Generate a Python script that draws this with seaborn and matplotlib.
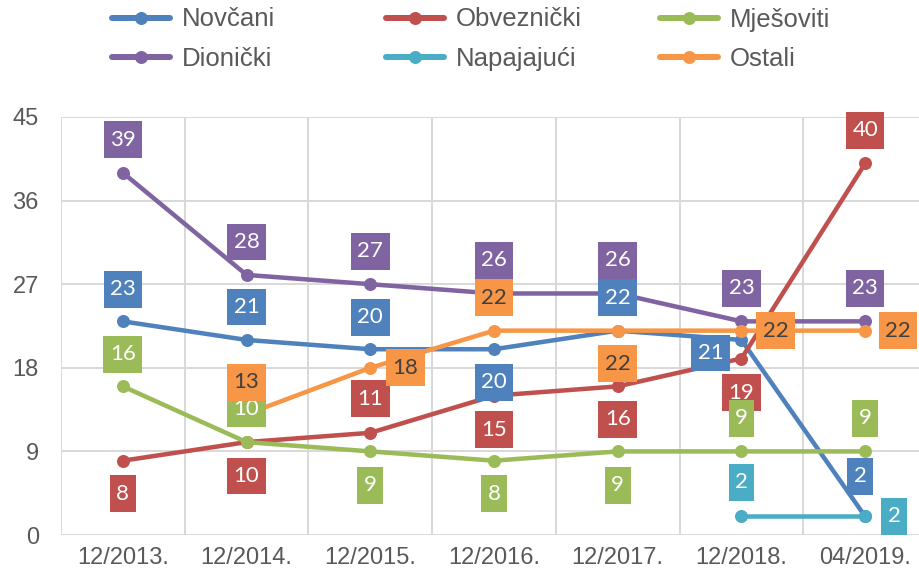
import numpy as np
import pandas as pd
import matplotlib
matplotlib.use("Agg")
import matplotlib.pyplot as plt
from matplotlib.lines import Line2D
import seaborn as sns

# ---- data ----
periods = ["12/2013.", "12/2014.", "12/2015.", "12/2016.", "12/2017.", "12/2018.", "04/2019."]
series_names = ["Novčani", "Obveznički", "Mješoviti", "Dionički", "Napajajući", "Ostali"]
novcani = [23, 21, 20, 20, 22, 21, 2]
obveznicki = [8, 10, 11, 15, 16, 19, 40]
mjesoviti = [16, 10, 9, 8, 9, 9, 9]
dionicki = [39, 28, 27, 26, 26, 23, 23]
napajajuci = [np.nan, np.nan, np.nan, np.nan, np.nan, 2, 2]
ostali = [np.nan, 13, 18, 22, 22, 22, 22]
yticks = [0, 9, 18, 27, 36, 45]

# ---- styles ----
colors = {"Novčani": "#4F81BD", "Obveznički": "#C0504D", "Mješoviti": "#9BBB59",
          "Dionički": "#8064A2", "Napajajući": "#4BACC6", "Ostali": "#F79646"}
text_colors = {k: "white" for k in colors}
text_colors["Ostali"] = "#404040"
# label offsets in pixels (dx, dy up)
label_offsets = {
    "Novčani": [(0, 32), (0, 33), (0, 32), (0, -33), (0, 33), (-31, -13), (-5, 40)],
    "Obveznički": [(0, -33), (0, -34), (0, 34), (0, -34), (0, -33), (0, -34), (0, 33)],
    "Mješoviti": [(0, 32), (0, 33), (0, -34), (0, -33), (0, -34), (0, 33), (0, 33)],
    "Dionički": [(0, 33)] * 7,
    "Napajajući": [None] * 5 + [(0, 34), (29, 0)],
    "Ostali": [None, (0, 32), (35, 0), (0, 33), (0, -33), (34, 0), (33, 0)],
}

values = dict(zip(series_names, [novcani, obveznicki, mjesoviti, dionicki, napajajuci, ostali]))
rows = []
for s in series_names:
    for i, p in enumerate(periods):
        rows.append({"xi": i, "period": p, "series": s, "value": values[s][i]})
df = pd.DataFrame(rows)

sns.set_theme(style="white")
plt.rcParams["font.family"] = ["Liberation Sans", "DejaVu Sans"]

DPI = 100
fig = plt.figure(figsize=(9.19, 5.76), dpi=DPI)
ax = fig.add_axes([61 / 919, 41 / 576, 866 / 919, 418 / 576])

PX = 72 / DPI  # points per pixel
sns.lineplot(data=df.dropna(), x="xi", y="value", hue="series", hue_order=series_names,
             palette=colors, marker="o", markersize=13 * PX, markeredgewidth=0,
             linewidth=4.5 * PX, legend=False, errorbar=None, sort=False, ax=ax, zorder=3)

ax.set_xlim(-0.5, 6.5)
ax.set_ylim(0, 45)
ax.set_yticks(yticks)
ax.set_xticks(range(len(periods)))
ax.set_xticklabels(periods)
ax.set_xticks(np.arange(-0.5, 7, 1), minor=True)
ax.grid(False)
ax.grid(True, axis="y", which="major", color="#D9D9D9", linewidth=2 * PX, zorder=0)
ax.grid(True, axis="x", which="minor", color="#D9D9D9", linewidth=2 * PX, zorder=0)
for sp in ax.spines.values():
    sp.set_visible(False)
ax.tick_params(axis="both", which="both", length=0)
ax.tick_params(axis="y", labelsize=17, labelcolor="#595959", pad=16)
ax.tick_params(axis="x", labelsize=17, labelcolor="#595959", pad=9)
ax.set_xlabel("")
ax.set_ylabel("")

# data labels
for s in series_names:
    for i, v in enumerate(values[s]):
        off = label_offsets[s][i]
        if off is None or np.isnan(v):
            continue
        ax.annotate(f"{v:.0f}", xy=(i, v), xytext=off, textcoords="offset pixels",
                    ha="center", va="center", fontsize=16, family=["Lato", "DejaVu Sans"],
                    color=text_colors[s], zorder=5,
                    bbox=dict(boxstyle="square,pad=0.29", fc=colors[s], ec="none",
                              mutation_aspect=1.3),
                    annotation_clip=False)

# legend: three columns
handles = {s: Line2D([], [], color=colors[s], linewidth=6 * PX, marker="o",
                     markersize=13 * PX, markeredgewidth=0) for s in series_names}
cols = [["Novčani", "Dionički"], ["Obveznički", "Napajajući"], ["Mješoviti", "Ostali"]]
col_x = [112, 386, 660]
for cx, names in zip(col_x, cols):
    fig.legend([handles[n] for n in names], names, loc="upper left",
               bbox_to_anchor=(cx / 919, 1 - 7.5 / 576), frameon=False,
               borderpad=0, borderaxespad=0, fontsize=18.5, handlelength=2.25,
               handletextpad=0.47, labelspacing=0.6, labelcolor="#595959")

fig.savefig("out.png", dpi=DPI)
